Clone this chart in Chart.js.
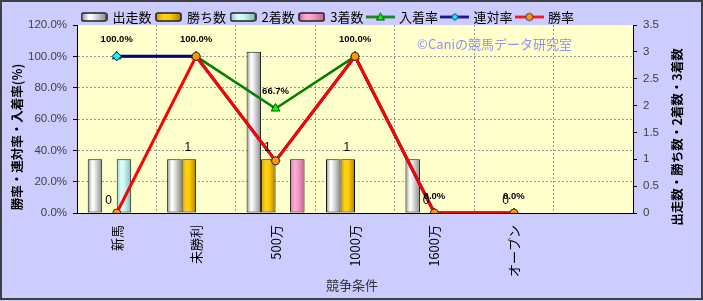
<!DOCTYPE html>
<html><head><meta charset="utf-8">
<script src="https://cdn.jsdelivr.net/npm/chart.js@4/dist/chart.umd.min.js"></script>
<style>html,body{margin:0;padding:0;background:#CCCCFF;}canvas{display:block;}</style>
</head><body>
<canvas id="c" width="703" height="301"></canvas>
<script>
// ---- data ----
const categories = ['新馬', '未勝利', '500万', '1000万', '1600万', 'オープン', ''];
const starts     = [1, 1, 3, 1, 1, 0, null];   // 出走数
const wins       = [0, 1, 1, 1, 0, 0, null];   // 勝ち数
const seconds    = [1, 0, 0, 0, 0, 0, null];   // 2着数
const thirds     = [0, 0, 1, 0, 0, 0, null];   // 3着数
const placeRate  = [100, 100, 66.7, 100, 0, 0, null]; // 入着率
const rentaiRate = [100, 100, 33.3, 100, 0, 0, null]; // 連対率
const winRate    = [0, 100, 33.3, 100, 0, 0, null];   // 勝率
const seriesNames = ['出走数', '勝ち数', '2着数', '3着数', '入着率', '連対率', '勝率'];
const leftTitle = '勝率・連対率・入着率(%)';
const rightTitle = '出走数・勝ち数・2着数・3着数';
const xTitle = '競争条件';
const watermark = '©Caniの競馬データ研究室';

const CAT_PCT = 0.73;
const JP = '"Noto Sans CJK JP", "Noto Sans", sans-serif';
const LAT = '"Liberation Sans", Arial, sans-serif';

const barStops = [
  [[0, '#8c8c8c'], [0.3, '#ffffff'], [0.45, '#f2f2f2'], [1, '#8a8a8a']],
  [[0, '#c89a00'], [0.3, '#ffd21a'], [0.55, '#ffcc00'], [1, '#a87e00']],
  [[0, '#8fcaca'], [0.3, '#dcffff'], [0.55, '#c8f4f4'], [1, '#7fb5b5']],
  [[0, '#d873a6'], [0.3, '#ffb0d6'], [0.55, '#f79acb'], [1, '#c0608f']]
];

function barFill(k) {
  return (ctx) => {
    const chart = ctx.chart;
    const xs = chart.scales && chart.scales.x;
    if (!xs || ctx.type !== 'data' || !isFinite(xs.left)) return barStops[k][2][1];
    const cw = (xs.right - xs.left) / categories.length;
    const center = xs.getPixelForValue(ctx.dataIndex);
    const gw = cw * CAT_PCT, bw = gw / 4;
    const x0 = center - gw / 2 + k * bw;
    const g = chart.ctx.createLinearGradient(x0, 0, x0 + bw, 0);
    barStops[k].forEach(([o, c]) => g.addColorStop(o, c));
    return g;
  };
}
function barBorder(arr) {
  return (ctx) => (ctx.type === 'data' && !arr[ctx.dataIndex]) ? 0 : 1;
}

// legend icons
function barIcon(k) {
  const cv = document.createElement('canvas');
  cv.width = 27; cv.height = 10;
  const c = cv.getContext('2d');
  const g = c.createLinearGradient(1, 0, 26, 0);
  barStops[k].forEach(([o, col]) => g.addColorStop(o, col));
  c.fillStyle = g;
  c.beginPath();
  c.roundRect ? c.roundRect(1, 1, 25, 8, 2) : c.rect(1, 1, 25, 8);
  c.fill();
  c.lineWidth = 1.6; c.strokeStyle = '#222';
  c.stroke();
  return cv;
}
function lineIcon(color, lw, shape, fill, stroke) {
  const cv = document.createElement('canvas');
  cv.width = 29; cv.height = 11;
  const c = cv.getContext('2d');
  c.strokeStyle = color; c.lineWidth = lw;
  c.beginPath(); c.moveTo(0, 5.5); c.lineTo(29, 5.5); c.stroke();
  c.fillStyle = fill; c.strokeStyle = stroke; c.lineWidth = 1;
  c.beginPath();
  if (shape === 'triangle') { c.moveTo(14.5, 1.5); c.lineTo(18.5, 8.5); c.lineTo(10.5, 8.5); c.closePath(); }
  else if (shape === 'rectRot') { c.moveTo(14.5, 2); c.lineTo(18, 5.5); c.lineTo(14.5, 9); c.lineTo(11, 5.5); c.closePath(); }
  else { c.arc(14.5, 5.5, 3.6, 0, Math.PI * 2); }
  c.fill(); c.stroke();
  return cv;
}
const legendIcons = [
  barIcon(0), barIcon(1), barIcon(2), barIcon(3),
  lineIcon('#008000', 2.5, 'triangle', '#00ff00', '#005000'),
  lineIcon('#000080', 2.5, 'rectRot', '#00ffff', '#000060'),
  lineIcon('#ff0000', 2.5, 'circle', '#ff9900', '#333333')
];

const decoPlugin = {
  id: 'deco',
  beforeDraw(chart) {
    const { ctx, chartArea: a, width, height } = chart;
    ctx.save();
    ctx.fillStyle = '#CCCCFF'; ctx.fillRect(0, 0, width, height);
    ctx.fillStyle = '#FFFFCC'; ctx.fillRect(a.left, a.top, a.right - a.left, a.bottom - a.top);
    ctx.restore();
  },
  beforeDatasetsDraw(chart) {
    const { ctx, chartArea: a } = chart;
    ctx.save();
    ctx.font = '13px ' + JP;
    ctx.fillStyle = '#9292f0';
    ctx.textAlign = 'center'; ctx.textBaseline = 'middle';
    ctx.fillText(watermark, a.left + (a.right - a.left) * 0.751, a.top + 19);
    ctx.restore();
  },
  afterDatasetsDraw(chart) {
    const c = chart.ctx;
    c.save();
    c.fillStyle = '#000'; c.textAlign = 'center'; c.textBaseline = 'middle';
    const mp = chart.getDatasetMeta(4);
    c.font = 'bold 9.5px ' + LAT;
    mp.data.forEach((pt, i) => {
      const v = placeRate[i];
      if (v == null) return;
      c.fillText(v.toFixed(1) + '%', pt.x, pt.y - 17);
    });
    const mw = chart.getDatasetMeta(1);
    c.font = '12px ' + LAT;
    mw.data.forEach((b, i) => {
      const v = wins[i];
      if (v == null) return;
      c.fillText(String(v), b.x - 1, b.y - 12);
    });
    c.restore();
  },
  afterDraw(chart) {
    const { ctx, width, height } = chart;
    ctx.save();
    ctx.fillStyle = '#000';
    ctx.textAlign = 'center'; ctx.textBaseline = 'middle';
    ctx.font = 'bold 12.5px ' + JP;
    ctx.save(); ctx.translate(17, 137); ctx.rotate(-Math.PI / 2); ctx.fillText(leftTitle, 0, 0); ctx.restore();
    ctx.save(); ctx.translate(677, 137); ctx.rotate(-Math.PI / 2); ctx.fillText(rightTitle, 0, 0); ctx.restore();
    ctx.font = '13px ' + JP;
    ctx.fillStyle = '#333';
    ctx.fillText(xTitle, 352, 285);
    ctx.strokeStyle = '#404040'; ctx.lineWidth = 2;
    ctx.strokeRect(1, 1, width - 2, height - 3);
    ctx.restore();
  }
};

const gridDash = [2, 2];
const chart = new Chart(document.getElementById('c'), {
  data: {
    labels: categories,
    datasets: [
      { type: 'bar', label: seriesNames[0], data: starts, yAxisID: 'y1', order: 3,
        backgroundColor: barFill(0), borderColor: '#111', borderWidth: barBorder(starts), borderSkipped: false },
      { type: 'bar', label: seriesNames[1], data: wins, yAxisID: 'y1', order: 4,
        backgroundColor: barFill(1), borderColor: '#111', borderWidth: barBorder(wins), borderSkipped: false },
      { type: 'bar', label: seriesNames[2], data: seconds, yAxisID: 'y1', order: 5,
        backgroundColor: barFill(2), borderColor: '#111', borderWidth: barBorder(seconds), borderSkipped: false },
      { type: 'bar', label: seriesNames[3], data: thirds, yAxisID: 'y1', order: 6,
        backgroundColor: barFill(3), borderColor: '#111', borderWidth: barBorder(thirds), borderSkipped: false },
      { type: 'line', label: seriesNames[4], data: placeRate, yAxisID: 'y', order: 2,
        borderColor: '#008000', borderWidth: 2.5, tension: 0, pointStyle: 'triangle',
        pointRadius: 5, pointBackgroundColor: '#00ff00', pointBorderColor: '#005000', pointBorderWidth: 1 },
      { type: 'line', label: seriesNames[5], data: rentaiRate, yAxisID: 'y', order: 1,
        borderColor: '#000080', borderWidth: 3, tension: 0, pointStyle: 'rectRot',
        pointRadius: 4.5, pointBackgroundColor: '#00ffff', pointBorderColor: '#000060', pointBorderWidth: 1 },
      { type: 'line', label: seriesNames[6], data: winRate, yAxisID: 'y', order: 0,
        borderColor: '#ff0000', borderWidth: 3, tension: 0, pointStyle: 'circle',
        pointRadius: 4, pointBackgroundColor: '#ff9900', pointBorderColor: '#333333', pointBorderWidth: 1 }
    ]
  },
  options: {
    responsive: false,
    animation: false,
    devicePixelRatio: 1,
    datasets: { bar: { categoryPercentage: CAT_PCT, barPercentage: 1 } },
    layout: { padding: { top: 5.5, left: 0, right: 0, bottom: 0 } },
    plugins: {
      tooltip: { enabled: false },
      legend: {
        position: 'top', align: 'start', fullSize: false, maxHeight: 19.5,
        labels: {
          usePointStyle: true, pointStyleWidth: 24, padding: 5,
          color: '#000', font: { family: JP, size: 13 },
          sort: (a, b) => a.datasetIndex - b.datasetIndex,
          generateLabels(chart) {
            const items = Chart.defaults.plugins.legend.labels.generateLabels(chart);
            items.forEach(it => { it.pointStyle = legendIcons[it.datasetIndex]; it.lineWidth = 0; });
            return items;
          }
        }
      }
    },
    scales: {
      x: {
        offset: true,
        grid: { offset: true, color: '#9a9a9a', drawTicks: false },
        border: { color: '#000', width: 1, dash: gridDash },
        ticks: { autoSkip: false, minRotation: 90, maxRotation: 90, padding: 12, color: '#000',
                 font: { family: JP, size: 13 } },
        afterFit(s) { s.height = 88; }
      },
      y: {
        position: 'left', min: 0, max: 120,
        grid: { color: (c) => (c.tick && c.tick.value === 120) ? 'rgba(0,0,0,0)' : '#9a9a9a',
                tickLength: 4, tickColor: '#000', tickBorderDash: [] },
        border: { color: '#000', width: 1, dash: gridDash },
        ticks: { stepSize: 20, padding: 6, color: '#404040', font: { family: LAT, size: 11.5 },
                 callback: (v) => Number(v).toFixed(1) + '%' },
        afterFit(s) { s.width = 77; }
      },
      y1: {
        position: 'right', min: 0, max: 3.5,
        grid: { drawOnChartArea: false, tickLength: 4, tickColor: '#000', tickBorderDash: [] },
        border: { color: '#000', width: 1 },
        ticks: { stepSize: 0.5, padding: 6, color: '#404040', font: { family: LAT, size: 11.5 },
                 callback: (v) => String(Math.round(v * 10) / 10) },
        afterFit(s) { s.width = 70; }
      }
    }
  },
  plugins: [decoPlugin]
});
</script>
</body></html>
